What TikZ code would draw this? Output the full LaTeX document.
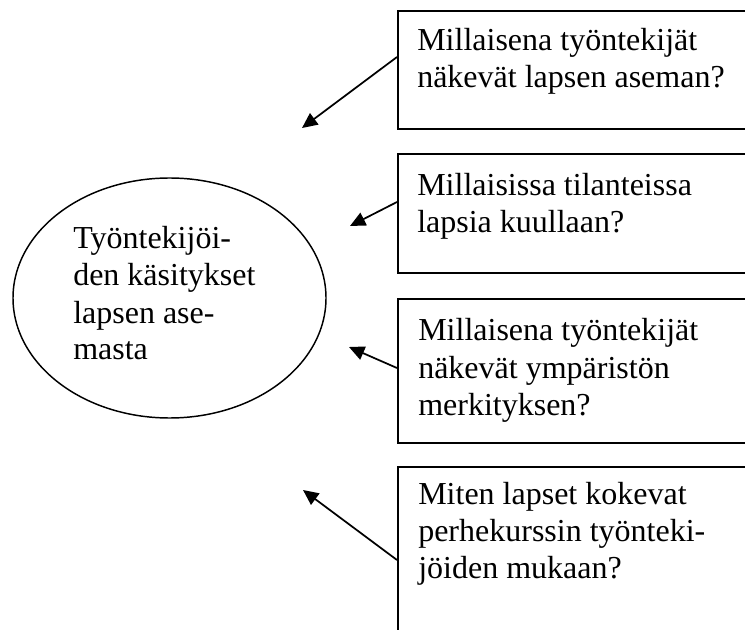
\documentclass[tikz,border=0pt]{standalone}
\usepackage{fontspec}
\setmainfont{Liberation Serif}
\usetikzlibrary{arrows.meta,shapes.geometric,calc}
\begin{document}
\begin{tikzpicture}[x=0.75pt,y=-0.75pt,
  qbox/.style={draw,line width=1.6pt,rectangle,anchor=north west,minimum width=380*0.75pt,inner sep=0pt},
  qtext/.style={anchor=base west,align=left,inner sep=0pt,font=\fontsize{24}{27.75}\selectfont},
  conn/.style={line width=1.3pt,-{Triangle[length=11.5pt,width=10.5pt]}},
  bubble/.style={draw,ellipse,line width=1.1pt,minimum width=313*0.75pt,minimum height=240*0.75pt,inner sep=0pt}
]
\useasboundingbox (0,0) rectangle (745,630);
\clip (0,0) rectangle (745,630);

% central ellipse
\node[bubble] (c) at (169.5,298) {};
\node[qtext] (ct) at (73,360) {Työntekijöi-\\den käsitykset\\lapsen ase-\\masta};

% question boxes
\node[qbox,minimum height=118*0.75pt] (b1) at (397,10) {};
\node[qbox,minimum height=119*0.75pt] (b2) at (397,153) {};
\node[qbox,minimum height=144*0.75pt] (b3) at (397,298) {};
\node[qbox,minimum height=200*0.75pt] (b4) at (397,466) {};

\node[qtext] (t1) at (417,88) {Millaisena työntekijät\\näkevät lapsen aseman?};
\node[qtext] (t2) at (417,233) {Millaisissa tilanteissa\\lapsia kuullaan?};
\node[qtext] (t3) at (418,415) {Millaisena työntekijät\\näkevät ympäristön\\merkityksen?};
\node[qtext] (t4) at (418,578) {Miten lapset kokevat\\perhekurssin työnteki-\\jöiden mukaan?};

% arrow tips (free ends)
\coordinate (p1) at (302,128);
\coordinate (p2) at (350,226);
\coordinate (p3) at (349,347);
\coordinate (p4) at (303,490);

\draw[conn] ($(b1.north west)+(0,47)$) -- (p1);
\draw[conn] ($(b2.north west)+(0,49)$) -- (p2);
\draw[conn] ($(b3.north west)+(0,70)$) -- (p3);
\draw[conn] ($(b4.north west)+(0,94)$) -- (p4);
\end{tikzpicture}
\end{document}
